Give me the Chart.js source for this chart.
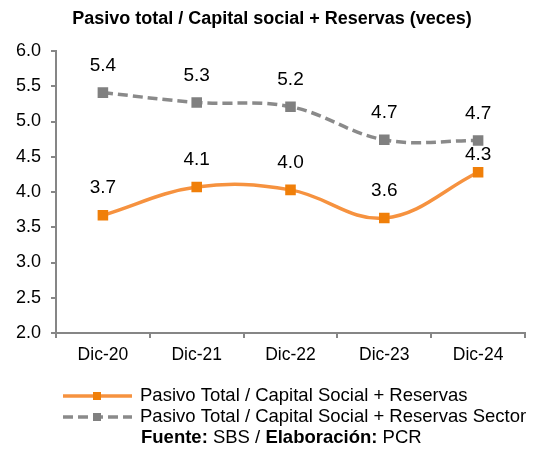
<!DOCTYPE html>
<html><head><meta charset="utf-8">
<script src="https://cdn.jsdelivr.net/npm/chart.js@4.4.1/dist/chart.umd.min.js"></script>
<style>html,body{margin:0;padding:0;background:#fff}#wrap{width:541px;height:452px}</style>
</head><body><div id="wrap"><canvas id="c" width="541" height="452"></canvas></div>
<script>
const categories = ['Dic-20', 'Dic-21', 'Dic-22', 'Dic-23', 'Dic-24'];
const seriesNames = ['Pasivo Total / Capital Social + Reservas', 'Pasivo Total / Capital Social + Reservas Sector'];
const empresa = [3.67, 4.07, 4.03, 3.63, 4.28];
const sector = [5.41, 5.27, 5.21, 4.74, 4.73];
const yTicks = [2.0, 2.5, 3.0, 3.5, 4.0, 4.5, 5.0, 5.5, 6.0];
const titleText = 'Pasivo total / Capital social + Reservas (veces)';
const footerParts = [['Fuente:', true], [' SBS / ', false], ['Elaboración:', true], [' PCR', false]];

const FONT = "'Liberation Sans', Arial, sans-serif";
const ORANGE_LINE = '#F6923F', ORANGE_PT = '#F07F09';
const GRAY_LINE = '#8A8A8A', GRAY_PT = '#808080';
const AXIS = '#868686';

const extras = {
  id: 'extras',
  afterDatasetsDraw(chart) {
    const ctx = chart.ctx;
    ctx.save();
    ctx.font = '19px ' + FONT;
    ctx.fillStyle = '#000';
    ctx.textAlign = 'center';
    ctx.textBaseline = 'middle';
    chart.data.datasets.forEach((ds, di) => {
      const meta = chart.getDatasetMeta(di);
      meta.data.forEach((pt, i) => {
        let off = 27;
        chart.data.datasets.forEach((o, oj) => {
          if (oj === di) return;
          const op = chart.getDatasetMeta(oj).data[i];
          const ly = pt.y - off;
          if (Math.abs(op.y - ly) < 14) off = 17;
        });
        ctx.fillText(ds.data[i].toFixed(1), pt.x, pt.y - off);
      });
    });
    ctx.restore();
  },
  afterDraw(chart) {
    const ctx = chart.ctx;
    ctx.save();
    ctx.fillStyle = '#000';
    ctx.font = 'bold 18px ' + FONT;
    ctx.textAlign = 'center';
    ctx.textBaseline = 'middle';
    ctx.fillText(titleText, 272, 19);
    const rows = [396, 417];
    chart.data.datasets.forEach((ds, di) => {
      const y = rows[di];
      ctx.strokeStyle = ds.borderColor;
      ctx.lineWidth = 3.5;
      ctx.setLineDash(ds.borderDash || []);
      ctx.beginPath();
      ctx.moveTo(63, y); ctx.lineTo(132, y);
      ctx.stroke();
      ctx.setLineDash([]);
      ctx.fillStyle = ds.pointBackgroundColor;
      ctx.fillRect(93, y - 4, 8, 8);
      ctx.fillStyle = '#000';
      ctx.font = '18.5px ' + FONT;
      ctx.textAlign = 'left';
      ctx.textBaseline = 'middle';
      ctx.fillText(ds.label, 140, y);
    });
    let x = 141;
    footerParts.forEach(([t, b]) => {
      ctx.font = (b ? 'bold ' : '') + '18.5px ' + FONT;
      ctx.fillText(t, x, 438);
      x += ctx.measureText(t).width;
    });
    ctx.restore();
  }
};

new Chart(document.getElementById('c'), {
  type: 'line',
  data: {
    labels: categories,
    datasets: [
      { label: seriesNames[0], data: empresa, borderColor: ORANGE_LINE, backgroundColor: ORANGE_PT,
        pointBackgroundColor: ORANGE_PT, pointBorderColor: ORANGE_PT, pointStyle: 'rect', pointRadius: 5,
        borderWidth: 3.5, tension: 0.38, fill: false },
      { label: seriesNames[1], data: sector, borderColor: GRAY_LINE, backgroundColor: GRAY_PT,
        pointBackgroundColor: GRAY_PT, pointBorderColor: GRAY_PT, pointStyle: 'rect', pointRadius: 5,
        borderWidth: 3.5, borderDash: [10, 5], tension: 0.38, fill: false }
    ]
  },
  options: {
    responsive: false, animation: false, devicePixelRatio: 1,
    layout: { padding: { left: 0, right: 16, top: 51, bottom: 79 } },
    plugins: {
      legend: { display: false },
      tooltip: { enabled: false },
      title: { display: false }
    },
    scales: {
      x: {
        offset: true,
        grid: { offset: true, drawOnChartArea: false, drawTicks: true, tickLength: 5, color: AXIS, lineWidth: 2 },
        border: { color: AXIS, width: 2 },
        ticks: { color: '#000', font: { family: FONT, size: 17.5 }, padding: 7, maxRotation: 0 },
        afterFit: s => { s.height = 40; }
      },
      y: {
        min: yTicks[0], max: yTicks[yTicks.length - 1],
        afterBuildTicks: s => { s.ticks = yTicks.map(v => ({ value: v })); },
        grid: { drawOnChartArea: false, drawTicks: true, tickLength: 5, color: AXIS, lineWidth: 2 },
        border: { color: AXIS, width: 2 },
        ticks: { color: '#000', font: { family: FONT, size: 18 }, padding: 10, callback: v => Number(v).toFixed(1) },
        afterFit: s => { s.width = 56; }
      }
    }
  },
  plugins: [extras]
});
</script>
</body></html>
